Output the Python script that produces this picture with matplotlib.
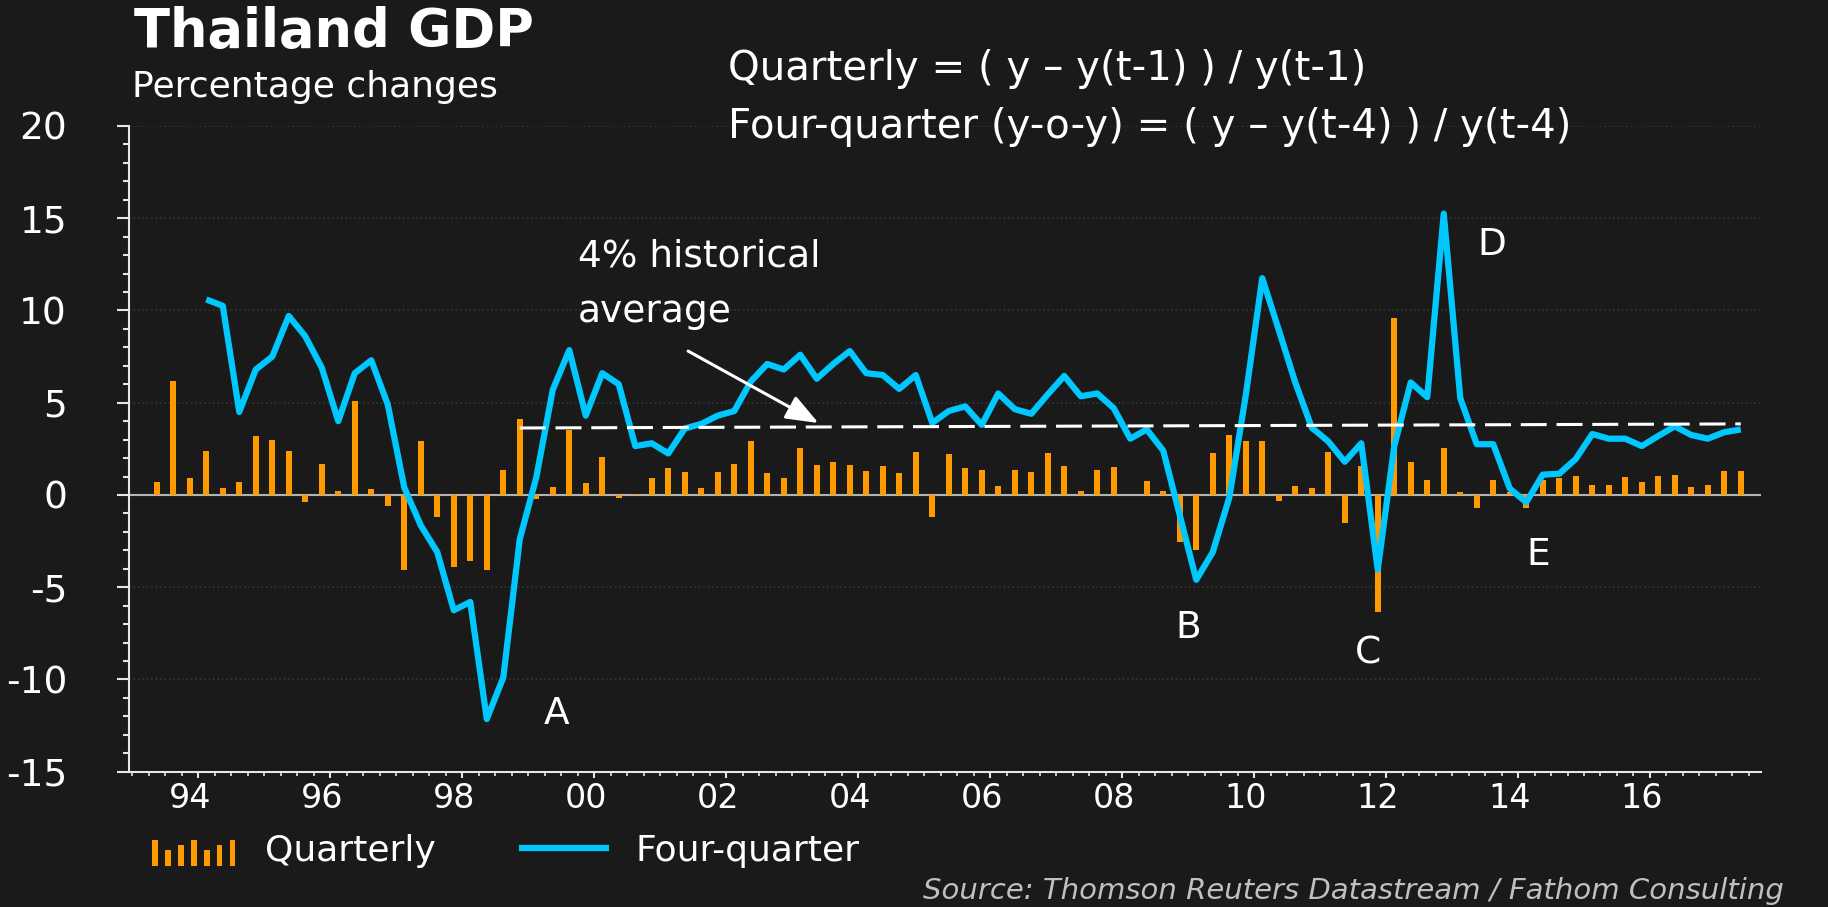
import numpy as np
import matplotlib.pyplot as plt
import matplotlib.transforms as mtransforms
from matplotlib.container import BarContainer
from matplotlib.legend_handler import HandlerBase
from matplotlib.patches import Rectangle
from matplotlib.ticker import FixedLocator, MultipleLocator

plt.rcParams['axes.unicode_minus'] = False

# Thailand real GDP, percentage changes
first_year = 1993          # x axis starts at 1993Q1
quarterly_start = '1993Q2'
four_quarter_start = '1994Q1'
axis_end = '2017Q3'

# quarter on quarter, 1993Q2 - 2017Q2
quarterly = [
    0.7, 6.2, 0.9,
    2.4, 0.4, 0.7, 3.2,
    3.0, 2.4, -0.4, 1.7,
    0.2, 5.1, 0.3, -0.6,
    -4.05, 2.9, -1.2, -3.9,
    -3.6, -4.05, 1.35, 4.1,
    -0.2, 0.45, 3.5, 0.65,
    2.05, -0.15, 0.05, 0.9,
    1.45, 1.25, 0.37, 1.25,
    1.7, 2.9, 1.2, 0.9,
    2.55, 1.65, 1.8, 1.65,
    1.3, 1.55, 1.2, 2.35,
    -1.2, 2.2, 1.45, 1.35,
    0.5, 1.35, 1.25, 2.25,
    1.55, 0.2, 1.35, 1.5,
    0.0, 0.75, 0.2, -2.55,
    -3.0, 2.3, 3.25, 2.9,
    2.9, -0.35, 0.5, 0.4,
    2.35, -1.5, 1.55, -6.35,
    9.6, 1.78, 0.8, 2.55,
    0.15, -0.7, 0.8, 0.18,
    -0.7, 0.82, 0.92, 1.02,
    0.54, 0.54, 0.98, 0.7,
    1.03, 1.08, 0.43, 0.54,
    1.3, 1.3,
]

# four-quarter (y-o-y), 1994Q1 - 2017Q2
four_quarter = [
    10.6, 10.25, 4.5, 6.8,
    7.5, 9.7, 8.6, 6.9,
    4.0, 6.6, 7.3, 4.9,
    0.4, -1.65, -3.1, -6.25,
    -5.8, -12.15, -9.9, -2.4,
    0.95, 5.7, 7.85, 4.3,
    6.6, 6.0, 2.65, 2.8,
    2.25, 3.6, 3.85, 4.3,
    4.55, 6.15, 7.1, 6.8,
    7.6, 6.3, 7.1, 7.8,
    6.6, 6.5, 5.75, 6.5,
    3.9, 4.55, 4.8, 3.8,
    5.5, 4.65, 4.4, 5.45,
    6.45, 5.35, 5.5, 4.7,
    3.05, 3.55, 2.4, -1.1,
    -4.6, -3.1, -0.15, 5.4,
    11.75, 8.95, 6.1, 3.65,
    2.9, 1.8, 2.8, -4.05,
    2.65, 6.1, 5.3, 15.25,
    5.25, 2.75, 2.75, 0.35,
    -0.4, 1.1, 1.15, 1.95,
    3.3, 3.05, 3.05, 2.65,
    3.2, 3.72, 3.25, 3.05,
    3.4, 3.55,
]

label_years = [1994, 1996, 1998, 2000, 2002, 2004, 2006, 2008, 2010, 2012, 2014, 2016]
year_labels = ['94', '96', '98', '00', '02', '04', '06', '08', '10', '12', '14', '16']

# "4% historical average" dashed line (level at its two ends)
hist_avg_quarters = ['1998Q4', '2017Q2']
hist_avg = [3.63, 3.85]

# episode markers
events = ['A', 'B', 'C', 'D', 'E']
event_x = [25.2, 63.5, 74.4, 81.9, 84.7]
event_y = [-12.4, -7.75, -9.15, 13.0, -3.8]


def qidx(s):
    return (int(s[:4]) - first_year) * 4 + int(s[-1]) - 1


bg = '#1a1a1a'
orange = '#ff9900'
cyan = '#00c8ff'

fig = plt.figure(figsize=(18.28, 9.07), dpi=100, facecolor=bg)
ax = fig.add_axes([0.0706, 0.1492, 0.8925, 0.7119], facecolor=bg)

xq = np.arange(qidx(quarterly_start), qidx(quarterly_start) + len(quarterly))
xy = np.arange(qidx(four_quarter_start), qidx(four_quarter_start) + len(four_quarter))

ax.axhline(0, color='#b4b4b4', lw=1.5, zorder=1.5)
bars = ax.bar(xq, quarterly, width=0.36, color=orange, zorder=2)
line, = ax.plot(xy, four_quarter, color=cyan, lw=4.5, solid_joinstyle='round',
                solid_capstyle='butt', zorder=3)
avg_x = [qidx(q) for q in hist_avg_quarters]
ax.plot(avg_x, hist_avg, color='white', lw=2.2, dashes=(8.5, 3.2), zorder=4)

ax.set_xlim(-0.68, qidx(axis_end) + 0.2)
ax.set_ylim(-15, 20)

# axes styling
for side in ['top', 'right']:
    ax.spines[side].set_visible(False)
for side in ['left', 'bottom']:
    ax.spines[side].set_color('#e6e6e6')
    ax.spines[side].set_linewidth(1.5)

ax.yaxis.set_major_locator(MultipleLocator(5))
ax.yaxis.set_minor_locator(MultipleLocator(1))
ax.yaxis.grid(True, which='major', color='#343838', linestyle=':', lw=1.2)
ax.set_axisbelow(True)

major_x = [(y - first_year) * 4 - 0.5 for y in label_years]
ax.xaxis.set_major_locator(FixedLocator(major_x))
ax.xaxis.set_minor_locator(FixedLocator(np.arange(-0.5, qidx(axis_end) + 0.2, 1.0)))
ax.set_xticklabels(year_labels)

ax.tick_params(axis='y', which='major', length=8.6, width=1.5, color='#e6e6e6',
               labelcolor='white', labelsize=27, pad=36)
ax.tick_params(axis='y', which='minor', length=4.3, width=1.5, color='#e6e6e6')
ax.tick_params(axis='x', which='major', length=4.5, width=1.5, color='#e6e6e6',
               labelcolor='white', labelsize=24, pad=3)
ax.tick_params(axis='x', which='minor', length=2.6, width=1.2, color='#e6e6e6')

shift = mtransforms.ScaledTranslation(-0.08, 0, fig.dpi_scale_trans)
for lab in ax.get_xticklabels():
    lab.set_transform(lab.get_transform() + shift)

# annotations
ax.text(26.5, 12.36, '4% historical', color='white', fontsize=27, ha='left', va='baseline')
ax.text(26.5, 9.38, 'average', color='white', fontsize=27, ha='left', va='baseline')
ax.annotate('', xy=(41.1, 3.9), xytext=(33.2, 7.8),
            arrowprops=dict(arrowstyle='-|>,head_length=0.9,head_width=0.35',
                            color='white', lw=2.2, mutation_scale=22, shrinkA=0, shrinkB=0),
            zorder=5)
for lab, ex, ey in zip(events, event_x, event_y):
    ax.text(ex, ey, lab, color='white', fontsize=27, ha='center', va='baseline')

# titles and formulae
fig.text(0.0733, 0.9485, 'Thailand GDP', color='white', fontsize=38, fontweight='bold',
         ha='left', va='baseline')
fig.text(0.0722, 0.893, 'Percentage changes', color='white', fontsize=26,
         ha='left', va='baseline')
fig.text(0.398, 0.9118, 'Quarterly = ( y \u2013 y(t-1) ) / y(t-1)', color='white',
         fontsize=29, ha='left', va='baseline')
fig.text(0.398, 0.8478, 'Four-quarter (y-o-y) = ( y \u2013 y(t-4) ) / y(t-4)', color='white',
         fontsize=29, ha='left', va='baseline')
fig.text(0.976, 0.009, 'Source: Thomson Reuters Datastream / Fathom Consulting',
         color='#c0c0c0', fontsize=21, style='italic', ha='right', va='baseline')


class MiniBars(HandlerBase):
    def create_artists(self, legend, orig_handle, xdescent, ydescent, width, height,
                       fontsize, trans):
        levels = [1.0, 0.6, 0.8, 1.0, 0.6, 0.8, 1.0]
        step = width / len(levels)
        out = []
        for k, h in enumerate(levels):
            r = Rectangle((-xdescent + k * step + step * 0.25, -ydescent - 0.2 * height),
                          step * 0.45, h * height * 1.05, facecolor=orange,
                          edgecolor='none', transform=trans)
            out.append(r)
        return out


fig.legend(handles=[bars, line], labels=['Quarterly', 'Four-quarter'],
           loc='center left', bbox_to_anchor=(0.0815, 0.0617), ncol=2, frameon=False,
           fontsize=26, labelcolor='white', handlelength=2.5, handletextpad=0.72,
           columnspacing=2.3, borderpad=0, borderaxespad=0,
           handler_map={BarContainer: MiniBars()})

fig.savefig('out.png', dpi=100, facecolor=bg)
